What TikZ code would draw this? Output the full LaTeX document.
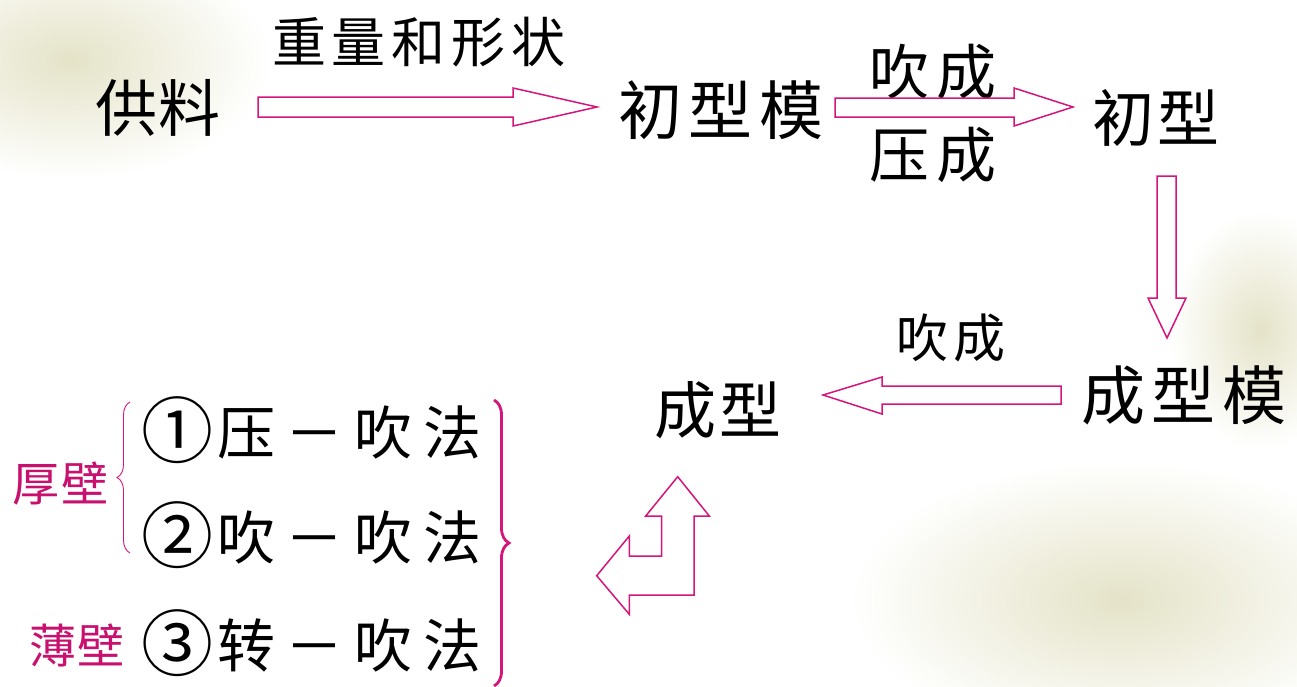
\documentclass[tikz,border=0pt]{standalone}
\usepackage{fontspec}
\setmainfont{Noto Sans CJK SC}
\usetikzlibrary{decorations.pathreplacing}
\definecolor{mag}{HTML}{D4157A}
\definecolor{txtmag}{HTML}{C8106E}
\definecolor{bgc}{HTML}{E4E3C8}
\newcommand{\cc}[2][69pt]{\makebox[#1]{#2}}
\newcommand{\circnum}[1]{\makebox[69pt]{\raisebox{-3pt}{\fontsize{72pt}{72pt}\selectfont #1}}}
\begin{document}
\begin{tikzpicture}[x=1pt,y=-1pt,
  lbl/.style={inner sep=0pt,font=\fontsize{#1}{#1}\selectfont},
  blockarrow/.style={draw=mag,line width=1.5pt,fill=white,line join=miter},
  bracestyle/.style={draw=mag,decorate,decoration={brace,amplitude=#1}}]
\useasboundingbox (0,0) rectangle (1297,686);
\fill[white] (0,0) rectangle (1297,686);
% faint background
\shade[inner color=bgc,outer color=white] (70,60) ellipse (200 and 120);
\shade[inner color=bgc,outer color=white] (1120,600) ellipse (270 and 140);
\shade[inner color=bgc,outer color=white] (1260,330) ellipse (90 and 120);
% texts
\node[lbl=54pt] (n0) at (419,42) {\cc[60pt]{重}\cc[60pt]{量}\cc[60pt]{和}\cc[60pt]{形}\cc[60pt]{状}};
\node[lbl=62pt] (n1) at (158,108) {\cc[64pt]{供}\cc[64pt]{料}};
\node[lbl=64pt] (n2) at (721,110) {\cc[71pt]{初}\cc[71pt]{型}\cc[71pt]{模}};
\node[lbl=60pt] (t1) at (933,72) {\cc[68pt]{吹}\cc[68pt]{成}};
\node[lbl=60pt] (t2) at (933,155) {\cc[68pt]{压}\cc[68pt]{成}};
\node[lbl=62pt] (n3) at (1156,118) {\cc[66pt]{初}\cc[66pt]{型}};
\node[lbl=64pt] (n4) at (1184,395) {\cc[71pt]{成}\cc[71pt]{型}\cc[71pt]{模}};
\node[lbl=52pt] (t3) at (951,338) {\cc[58pt]{吹}\cc[58pt]{成}};
\node[lbl=62pt] (n5) at (718,410) {\cc[66pt]{成}\cc[66pt]{型}};
\node[lbl=58pt] (r1) at (315,430) {\circnum{①}\cc{压}\cc{－}\cc{吹}\cc{法}};
\node[lbl=58pt] (r2) at (315,535) {\circnum{②}\cc{吹}\cc{－}\cc{吹}\cc{法}};
\node[lbl=58pt] (r3) at (315,643) {\circnum{③}\cc{转}\cc{－}\cc{吹}\cc{法}};
\node[lbl=47pt,text=txtmag] (l1) at (61,483) {\cc[49pt]{厚}\cc[49pt]{壁}};
\node[lbl=47pt,text=txtmag] (l2) at (77,645) {\cc[49pt]{薄}\cc[49pt]{壁}};
% block arrows
\draw[blockarrow] (258,97)--(513,97)--(513,88)--(597,107)--(513,126)--(513,117)--(258,117)--cycle;
\draw[blockarrow] (835,98)--(1014,98)--(1014,88)--(1073,107)--(1014,126)--(1014,117)--(835,117)--cycle;
\draw[blockarrow] (1157,176)--(1176,176)--(1176,298)--(1186,298)--(1167,338)--(1148,298)--(1157,298)--cycle;
\draw[blockarrow] (1061,386)--(882,386)--(882,377)--(823,395)--(882,414)--(882,404)--(1061,404)--cycle;
\draw[blockarrow] (677.7,476.7)--(709.3,516)--(694,516)--(694,595)--(629.3,595)--(629.3,614.3)--(596.7,575.7)--(629.3,536)--(629.3,556)--(661.7,556)--(661.7,516)--(645.7,516)--cycle;
% braces
\draw[bracestyle=13pt,line width=0.9pt] (130,553) -- (130,402);
\draw[bracestyle=15pt,line width=2.8pt] (494,400) -- (494,686);
\end{tikzpicture}
\end{document}
